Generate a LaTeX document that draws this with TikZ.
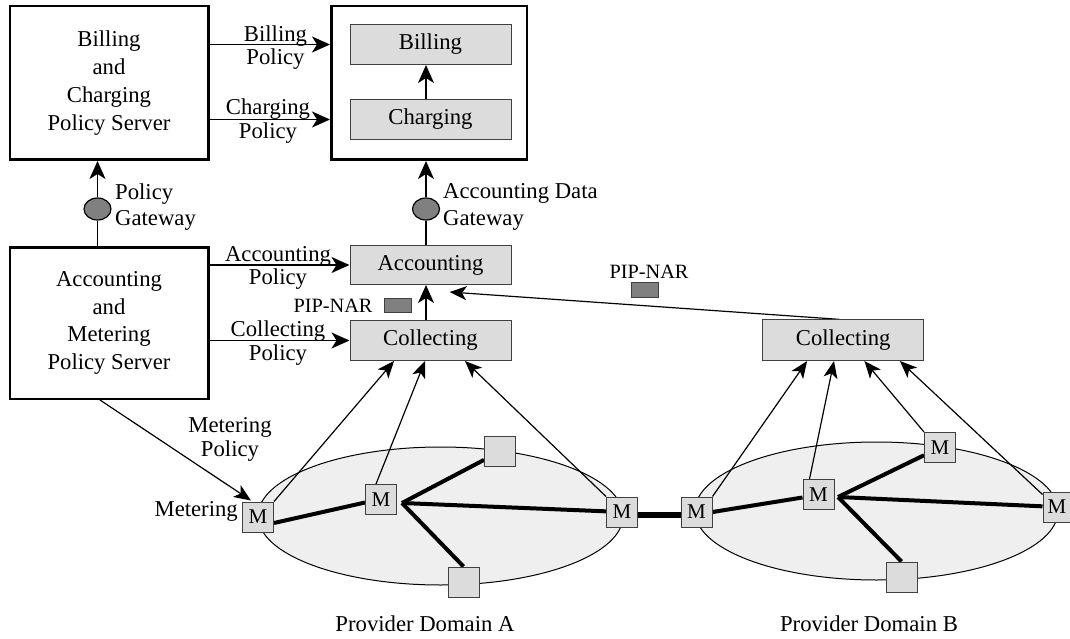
\documentclass[tikz,border=0pt]{standalone}
\usepackage{fontspec}
\setmainfont{Liberation Serif}
\usetikzlibrary{arrows.meta,calc,shapes.geometric}
\pgfdeclarelayer{bg}
\pgfdeclarelayer{mid}
\pgfsetlayers{bg,mid,main}
\definecolor{funcgray}{RGB}{220,220,220}
\definecolor{domgray}{RGB}{239,239,239}
\definecolor{darkg}{RGB}{128,128,128}
\begin{document}
\begin{tikzpicture}[x=1pt,y=-1pt,
  font=\fontsize{22.7}{27.8}\selectfont,
  server/.style={draw, line width=2.5pt, minimum width=198.5, minimum height=153.5, align=center, inner sep=0pt},
  func/.style={draw=black!75, fill=funcgray, line width=1pt, minimum width=161, minimum height=40, inner sep=0pt},
  gw/.style={ellipse, draw, fill=darkg, line width=1.2pt, minimum width=27, minimum height=22, inner sep=0pt},
  pip/.style={draw=black!75, fill=darkg, line width=1pt, minimum width=27, minimum height=14.5, inner sep=0pt},
  domainell/.style={ellipse, draw, fill=domgray, line width=1pt, inner sep=0pt},
  mnode/.style={draw=black!75, fill=funcgray, line width=1pt, minimum width=31, minimum height=30, inner sep=0pt, font=\fontsize{21}{24}\selectfont},
  plainsq/.style={draw=black!75, fill=funcgray, line width=1pt, minimum width=31, minimum height=30, inner sep=0pt},
  lbl/.style={align=center, inner sep=0pt, font=\fontsize{22.7}{23.5}\selectfont},
  glbl/.style={align=left, inner sep=0pt, anchor=west, font=\fontsize{22.7}{26.7}\selectfont},
  piplbl/.style={inner sep=0pt, font=\fontsize{20.3}{22}\selectfont},
  arr/.style={-{Stealth[length=18pt,width=16pt,inset=5pt]}, line width=1.6pt},
  tarr/.style={-{Stealth[length=17pt,width=14pt,inset=4.5pt]}, line width=1.2pt},
  link/.style={line width=4pt},
  bigLink/.style={line width=5.5pt}
]
\useasboundingbox (0,0) rectangle (1070,639);

% domains
\begin{pgfonlayer}{bg}
\node[domainell, minimum width=365, minimum height=138] (domA) at (440.5,516) {};
\node[domainell, minimum width=363, minimum height=138] (domB) at (876.5,511) {};
\end{pgfonlayer}

% servers and functions
\node[server] (bcps) at (109,83) {Billing\\and\\Charging\\Policy Server};
\node[server, minimum width=195.5] (bc) at (429,83) {};
\node[func] (billing) at (430.5,44.5) {Billing};
\node[func] (charging) at (430.5,119.5) {Charging};
\node[server, minimum height=151.5] (amps) at (109,323) {Accounting\\and\\Metering\\Policy Server};
\node[func, minimum height=39] (acc) at (430.5,265) {Accounting};
\node[func] (colA) at (430.5,340.5) {Collecting};
\node[func, minimum height=40.7] (colB) at (843.2,340.2) {Collecting};
\node[gw] (pgw) at (97.5,209) {};
\node[gw] (adgw) at (426,209) {};
\node[pip] (pip1) at (397.7,305.5) {};
\node[pip] (pip2) at (645.3,290) {};

% network elements
\node[mnode] (mA1) at (258,517) {M};
\node[mnode] (mA2) at (381,499.5) {M};
\node[plainsq] (sqA1) at (500,451.5) {};
\node[mnode] (mA3) at (622,512) {M};
\node[plainsq] (sqA2) at (463.5,582) {};
\node[mnode] (mB1) at (696.5,512) {M};
\node[mnode] (mB2) at (818.5,494.5) {M};
\node[mnode] (mB3) at (940,447.5) {M};
\node[mnode, minimum width=28] (mB4) at (1057,507) {M};
\node[plainsq] (sqB) at (901.5,577) {};
\coordinate (hubA) at (402,503);
\coordinate (hubB) at (838,497);

% labels
\node[lbl] (lBP) at (275.5,47.5) {Billing\\Policy};
\node[lbl] (lCP) at (268,121) {Charging\\Policy};
\node[lbl] (lAP) at (278,268) {Accounting\\Policy};
\node[lbl] (lCoP) at (278,343) {Collecting\\Policy};
\node[lbl, font=\fontsize{22.7}{24}\selectfont] (lMP) at (230,439) {Metering\\Policy};
\node[glbl] (lPG) at (115,207) {Policy\\Gateway};
\node[glbl] (lADG) at (443,207) {Accounting Data\\Gateway};
\node[inner sep=0pt, anchor=east] (lMet) at (238,511) {Metering};
\node[piplbl] (lPip1) at (333,305.5) {PIP-NAR};
\node[piplbl] (lPip2) at (649,271.7) {PIP-NAR};
\node[inner sep=0pt] (lDA) at (425,624) {Provider Domain A};
\node[inner sep=0pt] (lDB) at (869,624) {Provider Domain B};

% connectors
\begin{pgfonlayer}{mid}
\draw[arr] (bcps.east |- billing) -- (bc.west |- billing);
\draw[arr] (bcps.east |- charging) -- (bc.west |- charging);
\draw[arr] (charging.north -| adgw) -- (billing.south -| adgw);
\draw[line width=1.6pt] (pgw |- amps.north) -- (pgw);
\draw[arr] (pgw) -- (pgw |- bcps.south);
\draw[line width=1.6pt] (adgw |- acc.north) -- (adgw);
\draw[arr] (adgw) -- (adgw |- bc.south);
\draw[arr] (amps.east |- acc) -- (acc.west);
\draw[arr] (amps.east |- colA) -- (colA.west);
\draw[arr] (colA.north -| adgw) -- (acc.south -| adgw);
\draw[tarr] ($(colB.north)+(-4,0)$) -- ($(acc.south)+(19,7)$);
\draw[tarr] ($(amps.south)+(-9,0)$) -- ($(mA1.north west)+(9,-1)$);
% meters to collecting A
\draw[tarr] (mA1.north east) -- ($(colA.south west)!0.275!(colA.south east)$);
\draw[tarr] ($(mA2.north)+(-5,0)$) -- ($(colA.south west)!0.466!(colA.south east)$);
\draw[tarr] (mA3.north west) -- ($(colA.south west)!0.713!(colA.south east)$);
% meters to collecting B
\draw[tarr] (mB1.north east) -- ($(colB.south west)!0.277!(colB.south east)$);
\draw[tarr] ($(mB2.north)+(-9,0)$) -- ($(colB.south west)!0.443!(colB.south east)$);
\draw[tarr] (mB3.north west) -- ($(colB.south west)!0.631!(colB.south east)$);
\draw[tarr] ($(mB4.north west)+(0,3)$) -- ($(colB.south west)!0.85!(colB.south east)$);
% links domain A
\draw[link] ($(mA1.east)+(0,6)$) -- ($(mA2.west)+(0,3)$);
\draw[link] (hubA) -- (sqA1);
\draw[link] (hubA) -- (mA3);
\draw[link] (hubA) -- (sqA2.north);
% links domain B
\draw[link] (mB1.east) -- ($(mB2.west)+(0,3)$);
\draw[link] (hubB) -- (mB3);
\draw[link] (hubB) -- (mB4);
\draw[link] (hubB) -- (sqB.north);
% inter-domain
\draw[bigLink] ($(mA3.east)+(0,3)$) -- ($(mB1.west)+(0,3)$);
\end{pgfonlayer}
\end{tikzpicture}
\end{document}
